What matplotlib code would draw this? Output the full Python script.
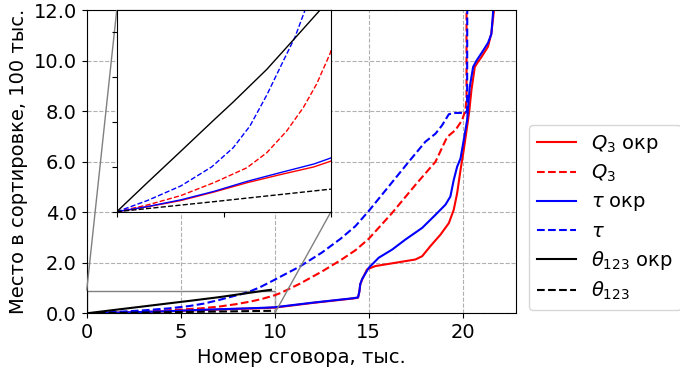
"""Rank of each collusion case in the sorted list, for the rounded and
raw versions of three statistics (Q3, tau, theta_123), with a zoomed
inset on the first ten thousand cases."""
import matplotlib
matplotlib.use("Agg")
import matplotlib.pyplot as plt
from mpl_toolkits.axes_grid1.inset_locator import mark_inset

# ---- data (x: case no., thousands; y: rank, 1e5) ----
q3_r_x = [0, 1.43, 2.99, 4.54, 6.1, 7.65, 9.2, 10, 12, 14.2, 14.43, 14.5,
          14.55, 14.65, 14.91, 15.35, 16.42, 17.48, 17.84, 18.28, 18.81,
          19.26, 19.52, 19.7, 19.88, 20.05, 20.23, 20.35, 20.46, 20.64,
          20.81, 21.0, 21.34, 21.52, 21.66, 21.75]
q3_r_y = [0, 0.022, 0.05, 0.088, 0.13, 0.166, 0.2, 0.226, 0.41, 0.59,
          0.62, 0.85, 1.15, 1.34, 1.74, 1.87, 2.0, 2.13, 2.26, 2.66, 3.11,
          3.57, 4.1, 4.75, 5.67, 6.46, 7.38, 8.03, 8.83, 9.75, 9.95, 10.15,
          10.55, 11.08, 12.0, 12.6]

q3_x = [0, 1.43, 2.99, 4.54, 6.07, 7.0, 7.93, 8.71, 9.33, 9.95, 10.3,
        11.33, 12.5, 13.5, 14.3, 15.0, 16.24, 17.48, 18.55, 19.17, 19.61,
        19.96, 20.14, 20.2, 20.2]
q3_y = [0, 0.03, 0.072, 0.13, 0.196, 0.263, 0.36, 0.465, 0.57, 0.704,
        0.8, 1.17, 1.65, 2.1, 2.5, 2.95, 3.97, 5.08, 6.0, 6.98, 7.25,
        7.64, 8.03, 8.5, 12.6]

tau_r_x = [0, 1.43, 2.99, 4.54, 6.1, 7.65, 9.2, 10, 12, 14.2, 14.43, 14.5,
           14.55, 14.65, 15.0, 15.53, 16.24, 16.95, 17.84, 18.55, 19.08,
           19.34, 19.52, 19.7, 19.88, 20.05, 20.23, 20.37, 20.55, 20.73,
           21.0, 21.34, 21.52, 21.62, 21.7]
tau_r_y = [0, 0.023, 0.053, 0.091, 0.136, 0.175, 0.213, 0.24, 0.42, 0.6,
           0.63, 0.86, 1.16, 1.36, 1.8, 2.2, 2.52, 2.92, 3.38, 3.9, 4.3,
           4.62, 5.28, 5.8, 6.13, 6.85, 7.64, 8.95, 9.75, 10.0, 10.3, 10.7,
           11.05, 12.0, 12.6]

tau_x = [0, 1.43, 2.99, 4.43, 5.44, 6.22, 7.0, 7.78, 8.32, 8.79, 9.21,
         9.92, 11.33, 12.5, 13.5, 14.29, 15.0, 16.06, 17.13, 18.01, 18.55,
         18.9, 19.26, 19.61, 20.14, 20.23, 20.24]
tau_y = [0, 0.05, 0.115, 0.2, 0.286, 0.383, 0.52, 0.674, 0.779, 0.9, 1.03,
         1.3, 1.85, 2.4, 2.95, 3.45, 4.05, 5.02, 6.0, 6.79, 7.11, 7.44,
         7.88, 7.93, 7.93, 8.03, 12.6]

th_r_x = [0, 1.43, 2.99, 4.54, 5.44, 7.0, 8.32, 9.49, 9.8]
th_r_y = [0, 0.13, 0.27, 0.41, 0.49, 0.635, 0.775, 0.9, 0.93]

th_x = [0, 4.54, 10]
th_y = [0, 0.045, 0.101]

SERIES = [
    (q3_r_x, q3_r_y, "red", "-", r"$Q_3$ окр"),
    (q3_x, q3_y, "red", "--", r"$Q_3$"),
    (tau_r_x, tau_r_y, "blue", "-", r"$\tau$ окр"),
    (tau_x, tau_y, "blue", "--", r"$\tau$"),
    (th_r_x, th_r_y, "black", "-", r"$\theta_{123}$ окр"),
    (th_x, th_y, "black", "--", r"$\theta_{123}$"),
]


def plot(out):
    fig = plt.figure(figsize=(6.8, 3.68), dpi=100)
    ax = fig.add_axes([0.1275, 0.1486, 0.6313, 0.824])

    for xs, ys, c, ls, lab in SERIES:
        ax.plot(xs, ys, color=c, ls=ls, lw=1.5, label=lab)
    ax.set_xlim(0, 22.83)
    ax.set_ylim(0, 12)
    ax.set_xticks([0, 5, 10, 15, 20])
    ax.set_yticks([0, 2, 4, 6, 8, 10, 12])
    ax.set_yticklabels([f"{v:.1f}" for v in ax.get_yticks()])
    ax.tick_params(labelsize=14)
    ax.grid(True, ls="--", color="#b0b0b0", lw=0.8)
    ax.set_xlabel("Номер сговора, тыс.", fontsize=14)
    ax.set_ylabel("Место в сортировке, 100 тыс.", fontsize=14)

    # ----- zoomed inset on the first 10k cases -----
    axins = ax.inset_axes([0.07, 0.335, 0.499, 0.665])
    for xs, ys, c, ls, lab in SERIES:
        axins.plot(xs, ys, color=c, ls=ls, lw=1.0)
    axins.set_xlim(0, 10)
    axins.set_ylim(0, 0.9)
    axins.set_xticks([0, 5, 10])
    axins.set_yticks([0, 0.2, 0.4, 0.6, 0.8])
    axins.set_xticklabels([])
    axins.set_yticklabels([])
    mark_inset(ax, axins, loc1=2, loc2=4, fc="none", ec="0.5", lw=1.0)

    ax.legend(loc="lower left", bbox_to_anchor=(1.03, 0.011),
              borderaxespad=0, fontsize=14, labelspacing=0.42)

    fig.savefig(out, dpi=100)
    plt.close(fig)


if __name__ == "__main__":
    plot("out.png")
